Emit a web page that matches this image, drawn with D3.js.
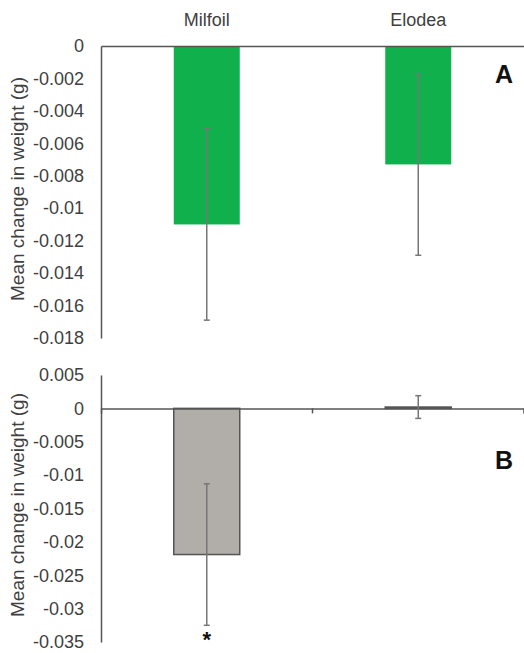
<!DOCTYPE html>
<html><head><meta charset="utf-8">
<script src="https://cdn.jsdelivr.net/npm/d3@7"></script>
<style>body{margin:0;background:#fff}svg{display:block}text{font-family:"Liberation Sans",Arial,sans-serif}</style>
</head><body>
<svg id="c" width="524" height="653"></svg>
<script>
const categories = ["Milfoil", "Elodea"];
const meansA = [-0.0110, -0.0073];
const errA = [0.0059, 0.0056];
const meansB = [-0.0219, 0.0002];
const errB = [0.0106, 0.0017];
const ticksA = [0, -0.002, -0.004, -0.006, -0.008, -0.01, -0.012, -0.014, -0.016, -0.018];
const ticksB = [0.005, 0, -0.005, -0.01, -0.015, -0.02, -0.025, -0.03, -0.035];
const signif = ["*", ""];
const yLabel = "Mean change in weight (g)";

const svg = d3.select("#c");
const x = d3.scaleBand().domain(categories).range([101, 524]).paddingInner(0.688).paddingOuter(0.344);
const fmt = d => d === 0 ? "0" : String(d);
const txt = "#3f3f3f";

function panel(cfg) {
  const y = d3.scaleLinear().domain(cfg.domain).range(cfg.range);
  const g = svg.append("g");
  const ax = g.append("g").attr("transform", "translate(101,0)")
    .call(d3.axisLeft(y).tickValues(cfg.ticks).tickFormat(fmt).tickSize(0).tickPadding(17));
  ax.select(".domain").attr("stroke", "#555").attr("stroke-width", 1.5);
  ax.selectAll("text").attr("font-size", 18).attr("fill", txt).attr("font-family", '"Liberation Sans",Arial,sans-serif');
  g.selectAll("rect.bar").data(cfg.means).join("rect").attr("class", "bar")
    .attr("x", (d, i) => x(categories[i]))
    .attr("width", x.bandwidth())
    .attr("y", d => Math.min(y(0), y(d)))
    .attr("height", d => Math.abs(y(d) - y(0)))
    .attr("fill", cfg.fill)
    .attr("stroke", cfg.stroke).attr("stroke-width", cfg.strokeW);
  const xa = g.append("g").attr("transform", `translate(0,${y(0)})`)
    .call(d3.axisBottom(x).tickSize(cfg.xTick).tickFormat(""));
  xa.select(".domain").attr("stroke", "#555").attr("stroke-width", 1.5);
  xa.selectAll(".tick").remove();
  if (cfg.xTick > 0) {
    const bounds = [x.range()[0] + x.step(), x.range()[0] + 2 * x.step()];
    xa.selectAll("line.bt").data(bounds).join("line").attr("class", "bt")
      .attr("x1", d => d).attr("x2", d => d).attr("y1", 0).attr("y2", cfg.xTick)
      .attr("stroke", "#555").attr("stroke-width", 1.5);
  }
  const cx = (i) => x(categories[i]) + x.bandwidth() / 2;
  const eb = g.selectAll("g.eb").data(cfg.means).join("g").attr("class", "eb");
  eb.append("line").attr("x1", (d, i) => cx(i)).attr("x2", (d, i) => cx(i))
    .attr("y1", (d, i) => y(d + cfg.err[i])).attr("y2", (d, i) => y(d - cfg.err[i]))
    .attr("stroke", "#777").attr("stroke-width", 1.5);
  [1, -1].forEach(s => {
    eb.append("line").attr("x1", (d, i) => cx(i) - 3).attr("x2", (d, i) => cx(i) + 3)
      .attr("y1", (d, i) => y(d + s * cfg.err[i])).attr("y2", (d, i) => y(d + s * cfg.err[i]))
      .attr("stroke", "#777").attr("stroke-width", 1.5);
  });
  g.append("text").attr("transform", `translate(${cfg.labelX},${cfg.labelY}) rotate(-90)`)
    .attr("text-anchor", "middle").attr("font-size", 19).attr("fill", txt).text(yLabel);
  g.append("text").attr("x", 504).attr("y", cfg.letterY).attr("text-anchor", "middle")
    .attr("font-size", 25).attr("font-weight", "bold").attr("fill", "#111").text(cfg.letter);
  return {y, cx};
}

const A = panel({domain: [-0.018, 0], range: [338, 46], ticks: ticksA, means: meansA, err: errA,
  fill: "#10b04c", stroke: "none", strokeW: 0, xTick: 0, labelX: 24, labelY: 189, letter: "A", letterY: 83});
const B = panel({domain: [-0.035, 0.005], range: [642, 375], ticks: ticksB, means: meansB, err: errB,
  fill: "#b1ada9", stroke: "#555", strokeW: 1.5, xTick: 5, labelX: 24, labelY: 505, letter: "B", letterY: 469});

svg.selectAll("text.cat").data(categories).join("text").attr("class", "cat")
  .attr("x", d => x(d) + x.bandwidth() / 2).attr("y", 26).attr("text-anchor", "middle")
  .attr("font-size", 18).attr("fill", txt).text(d => d);

svg.selectAll("text.sig").data(signif).join("text").attr("class", "sig")
  .attr("x", (d, i) => B.cx(i)).attr("y", (d, i) => B.y(meansB[i] - errB[i]) + 22)
  .attr("text-anchor", "middle").attr("font-size", 22).attr("font-weight", "bold").attr("fill", "#111").text(d => d);
</script>
</body></html>
